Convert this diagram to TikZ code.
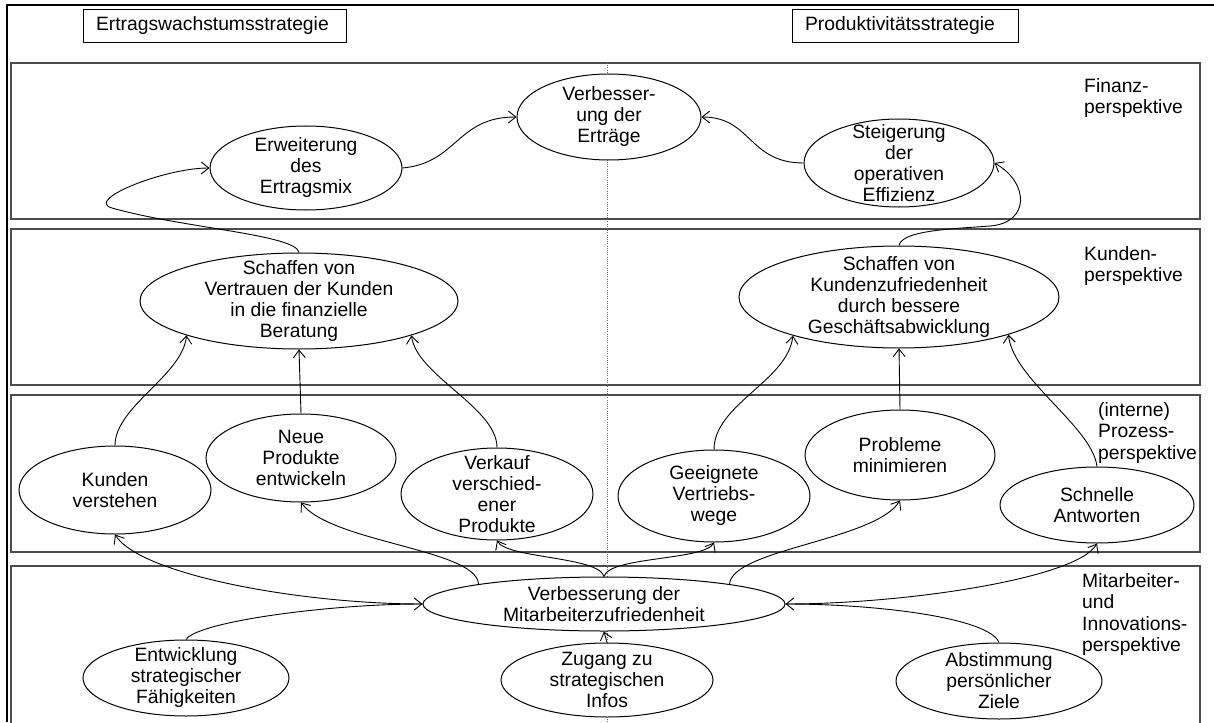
\documentclass[tikz,border=0pt]{standalone}
\usepackage{fontspec}
\setmainfont{Liberation Sans}
\usetikzlibrary{shapes.geometric,arrows.meta}
\begin{document}
\begin{tikzpicture}[x=1pt,y=-1pt,
  band/.style={draw=black!70, line width=1.4pt},
  ell/.style={ellipse, draw, line width=1pt, fill=white, inner sep=0pt},
  etxt/.style={align=center, font=\fontsize{19.3}{21}\selectfont, inner sep=0pt},
  ptxt/.style={align=left, font=\fontsize{19.3}{21.5}\selectfont, inner sep=0pt, anchor=north west},
  conn/.style={line width=0.9pt, -{Straight Barb[length=7.5pt,width=12pt]}},
  hbox/.style={draw, line width=0.8pt, font=\fontsize{19.3}{21}\selectfont, minimum height=33pt, inner ysep=0pt, inner xsep=13pt, align=left}
]
\useasboundingbox (0,0) rectangle (1214,722);
% outer frame
\draw[line width=2.5pt] (7,722) -- (7,5) -- (1214,5);
% header boxes
\node[hbox, text width=237pt] (hl) at (214.5,25.5) {Ertragswachstumsstrategie};
\node[hbox, text width=200pt] (hr) at (905,25.5) {Produktivitätsstrategie};
% bands
\draw[band] (11,63) rectangle (1200,219);
\draw[band] (11,229) rectangle (1200,385);
\draw[band] (11,395) rectangle (1200,552);
\draw[band] (11,730) -- (11,566) -- (1200,566) -- (1200,730);
% dotted divider
\draw[black!60, line width=0.8pt, dash pattern=on 1pt off 1.2pt] (607,63) -- (607,722);
% ellipses
\node[ell, minimum width=184pt, minimum height=86pt, label={[etxt]center:Verbesser-\\ung der\\Erträge}] (VE) at (609,117) {};
\node[ell, minimum width=192pt, minimum height=84pt, label={[etxt]center:Erweiterung\\des\\Ertragsmix}] (ER) at (306,168) {};
\node[ell, minimum width=190pt, minimum height=88pt, label={[etxt]center:Steigerung\\der\\operativen\\Effizienz}] (ST) at (899,163) {};
\node[ell, minimum width=318pt, minimum height=96pt, label={[etxt]center:Schaffen von\\Vertrauen der Kunden\\in die finanzielle\\Beratung}] (SV) at (299,301) {};
\node[ell, minimum width=320pt, minimum height=102pt, label={[etxt]center:Schaffen von\\Kundenzufriedenheit\\durch bessere\\Geschäftsabwicklung}] (SK) at (899,297) {};
\node[ell, minimum width=192pt, minimum height=88pt, label={[etxt]center:Kunden\\verstehen}] (KV) at (115,490) {};
\node[ell, minimum width=190pt, minimum height=88pt, label={[etxt]center:Neue\\Produkte\\entwickeln}] (NP) at (301,458) {};
\node[ell, minimum width=192pt, minimum height=92pt, label={[etxt]center:Verkauf\\verschied-\\ener\\Produkte}] (VK) at (497,494) {};
\node[ell, minimum width=192pt, minimum height=92pt, label={[etxt]center:Geeignete\\Vertriebs-\\wege}] (GV) at (714,496) {};
\node[ell, minimum width=190pt, minimum height=90pt, label={[etxt]center:Probleme\\minimieren}] (PM) at (900,455) {};
\node[ell, minimum width=194pt, minimum height=76pt, label={[etxt]center:Schnelle\\Antworten}] (SA) at (1097,505) {};
\node[ell, minimum width=362pt, minimum height=54pt, label={[etxt]center:Verbesserung der\\Mitarbeiterzufriedenheit}] (MZ) at (604,604) {};
\node[ell, minimum width=206pt, minimum height=76pt, label={[etxt]center:Entwicklung\\strategischer\\Fähigkeiten}] (EF) at (186,678) {};
\node[ell, minimum width=212pt, minimum height=74pt, label={[etxt]center:Zugang zu\\strategischen\\Infos}] (ZI) at (607,680) {};
\node[ell, minimum width=206pt, minimum height=76pt, label={[etxt]center:Abstimmung\\persönlicher\\Ziele}] (AP) at (999,681) {};
% waypoints
\coordinate (loopL) at (112,208);
\coordinate (loopR) at (990,226);
% connectors
\draw[conn] (ER.east) .. controls +(55,-5) and +(-60,0) .. (VE.west);
\draw[conn] (ST.west) .. controls +(-55,0) and +(50,0) .. (VE.east);
\draw[conn] (SV.north) .. controls +(-3,-18) and +(70,20) .. (loopL) .. controls +(-28,-8) and +(-45,0) .. (ER.west);
\draw[conn] (SK.north) .. controls +(3,-15) and +(-40,3) .. (loopR) .. controls +(40,-3) and +(35,20) .. (ST.east);
\draw[conn] (KV.north) .. controls +(0,-39) and +(-4,40) .. (SV.-163);
\draw[conn] (NP.north) -- (SV.south);
\draw[conn] (VK.north) .. controls +(0,-40) and +(5,40) .. (SV.-17);
\draw[conn] (GV.north) .. controls +(0,-45) and +(-5,45) .. (SK.-160);
\draw[conn] (PM.north) -- (SK.south);
\draw[conn] (SA.north) .. controls +(-5,-40) and +(5,45) .. (SK.-19);
\draw[conn] (MZ.west) .. controls +(-123,0) and +(25,40) .. (KV.south);
\draw[conn] (EF.north) .. controls +(12,-18) and +(-93,0) .. (MZ.west);
\draw[conn] (MZ.171) .. controls +(-2,-35) and +(30,40) .. (NP.south);
\draw[conn] (MZ.north) .. controls +(-5,-20) and +(10,18) .. (VK.south);
\draw[conn] (MZ.north) .. controls +(5,-20) and +(-10,18) .. (GV.south);
\draw[conn] (MZ.9) .. controls +(3,-35) and +(-25,40) .. (PM.south);
\draw[conn] (MZ.east) .. controls +(120,0) and +(-20,35) .. (SA.south);
\draw[conn] (AP.north) .. controls +(-10,-25) and +(90,0) .. (MZ.east);
\draw[conn] (ZI.north) -- (MZ.south);
% perspective labels
\node[ptxt] (pF) at (1084,78) {Finanz-\\perspektive};
\node[ptxt] (pK) at (1084,246) {Kunden-\\perspektive};
\node[ptxt] (pP) at (1098,402) {(interne)\\Prozess-\\perspektive};
\node[ptxt] (pM) at (1082,573) {Mitarbeiter-\\und\\Innovations-\\perspektive};
\end{tikzpicture}
\end{document}
